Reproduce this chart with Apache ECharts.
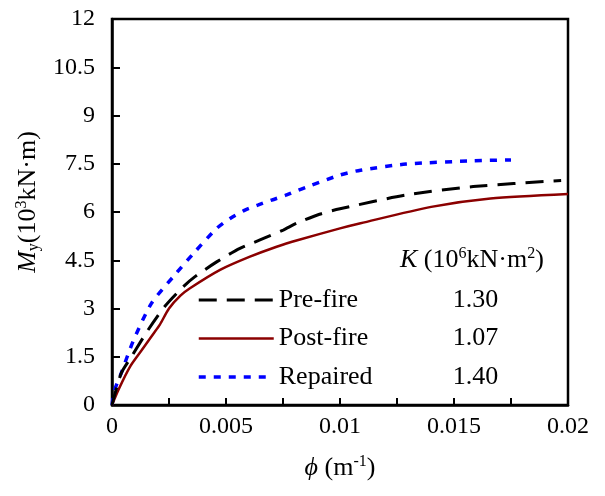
<!DOCTYPE html>
<html>
<head>
<meta charset="utf-8">
<script src="https://cdn.jsdelivr.net/npm/echarts@6/dist/echarts.min.js"></script>
<style>html,body{margin:0;padding:0;background:#fff}#c{width:605px;height:496px}</style>
</head>
<body>
<div id="c"></div>
<script>
const seriesNames = ['Pre-fire', 'Post-fire', 'Repaired'];
const kValues = ['1.30', '1.07', '1.40'];
const xTickLabels = ['0', '0.005', '0.01', '0.015', '0.02'];
const yTickLabels = ['0', '1.5', '3', '4.5', '6', '7.5', '9', '10.5', '12'];

const preFireX = [0, 0.0004, 0.00085, 0.00158, 0.00231, 0.00313, 0.00364, 0.00459, 0.00561, 0.00649, 0.00751, 0.0081, 0.0091, 0.01, 0.01292, 0.01584, 0.0197];
const preFireY = [0, 0.98, 1.5, 2.33, 3.06, 3.68, 3.99, 4.45, 4.87, 5.13, 5.44, 5.65, 5.93, 6.1, 6.53, 6.79, 6.98];

const postFireX = [0, 0.0003, 0.0008, 0.0013, 0.0018, 0.0021, 0.0025, 0.003, 0.00342, 0.00474, 0.00605, 0.00722, 0.00817, 0.01, 0.0109, 0.014, 0.0166, 0.02];
const postFireY = [0, 0.5, 1.2, 1.7, 2.2, 2.5, 3.0, 3.4, 3.63, 4.2, 4.61, 4.92, 5.13, 5.49, 5.65, 6.16, 6.42, 6.56];

const repairedX = [0, 0.00012, 0.0004, 0.00092, 0.00173, 0.00269, 0.00357, 0.00459, 0.00518, 0.00583, 0.00642, 0.007, 0.00766, 0.00817, 0.0087, 0.01, 0.0109, 0.0129, 0.0158, 0.0175];
const repairedY = [0, 0.47, 0.98, 1.97, 3.16, 3.99, 4.71, 5.49, 5.8, 6.06, 6.22, 6.37, 6.53, 6.68, 6.82, 7.15, 7.3, 7.49, 7.59, 7.62];

const FONT = '"Liberation Serif", "Times New Roman", serif';
const zip = (xs, ys) => xs.map((x, i) => [x, ys[i]]);

const lineStyles = [
  { color: '#000000', width: 3, type: [18, 10] },
  { color: '#8B0000', width: 2.5, type: 'solid' },
  { color: '#0000FF', width: 3.5, type: [7, 8] }
];
const dataSets = [zip(preFireX, preFireY), zip(postFireX, postFireY), zip(repairedX, repairedY)];

const T = (extra) => Object.assign({ fontFamily: FONT, fontSize: 26, color: '#000', fontWeight: 'normal', lineHeight: 28 }, extra || {});
const SUP = { fontFamily: FONT, fontSize: 16, color: '#000', fontWeight: 'normal', verticalAlign: 'top', lineHeight: 17 };
const SUB = { fontFamily: FONT, fontSize: 16, color: '#000', fontWeight: 'normal', verticalAlign: 'bottom', lineHeight: 17 };

const chart = echarts.init(document.getElementById('c'), null, { renderer: 'canvas' });
chart.setOption({
  animation: false,
  backgroundColor: '#fff',
  textStyle: { fontFamily: FONT },
  grid: { left: 112, right: 37, top: 19, bottom: 91, show: true, borderColor: '#000', borderWidth: 2.5, backgroundColor: 'transparent' },
  title: {
    text: '{k|K}{t| (10}{s|6}{t|kN·m}{s|2}{t|)}',
    left: 395, top: 241,
    textStyle: {
      fontFamily: FONT, fontWeight: 'normal',
      rich: { k: T({ fontStyle: 'italic' }), t: T(), s: SUP }
    }
  },
  legend: {
    orient: 'vertical',
    left: 192, top: 281,
    padding: 5,
    itemWidth: 75, itemHeight: 14, itemGap: 10.5,
    data: seriesNames.map((n, i) => ({
      name: n,
      itemStyle: { opacity: 0, color: 'transparent', borderWidth: 0 },
      lineStyle: { color: lineStyles[i].color, width: lineStyles[i].width, type: lineStyles[i].type, opacity: 1 }
    })),
    formatter: function (name) {
      const i = seriesNames.indexOf(name);
      return '{a|' + name + '}{b|' + kValues[i] + '}';
    },
    textStyle: T({ rich: { a: T({ width: 174 }), b: T() } })
  },
  xAxis: {
    type: 'value', min: 0, max: 0.02, interval: 0.0025,
    axisLine: { lineStyle: { color: '#000', width: 2.5 } },
    axisTick: { inside: true, length: 7, lineStyle: { color: '#000', width: 2 } },
    splitLine: { show: false },
    axisLabel: {
      fontFamily: FONT, fontSize: 24, color: '#000', margin: 10,
      formatter: (v, idx) => (idx % 2 === 0 ? xTickLabels[idx / 2] : '')
    },
    name: '{i|ϕ}{t| (m}{s|-1}{t|)}',
    nameLocation: 'middle', nameGap: 49,
    nameTextStyle: { rich: { i: T({ fontStyle: 'italic' }), t: T(), s: SUP } }
  },
  yAxis: {
    type: 'value', min: 0, max: 12, interval: 1.5,
    axisLine: { lineStyle: { color: '#000', width: 2.5 } },
    axisTick: { inside: true, length: 8, lineStyle: { color: '#000', width: 2 } },
    splitLine: { show: false },
    axisLabel: {
      fontFamily: FONT, fontSize: 24, color: '#000', margin: 17,
      formatter: (v, idx) => yTickLabels[idx]
    },
    name: '{m|M}{u|y}{t|(10}{s|3}{t|kN·m)}',
    nameLocation: 'middle', nameGap: 66, nameRotate: 90,
    nameTextStyle: {
      padding: [0, 0, 0, 20],
      rich: { m: T({ fontStyle: 'italic' }), u: SUB, t: T(), s: SUP }
    }
  },
  series: seriesNames.map((n, i) => ({
    name: n, type: 'line', data: dataSets[i], showSymbol: false, symbol: 'none', smooth: 0.25,
    lineStyle: lineStyles[i], itemStyle: { color: lineStyles[i].color }, z: 3 - i
  }))
});
</script>
</body>
</html>
